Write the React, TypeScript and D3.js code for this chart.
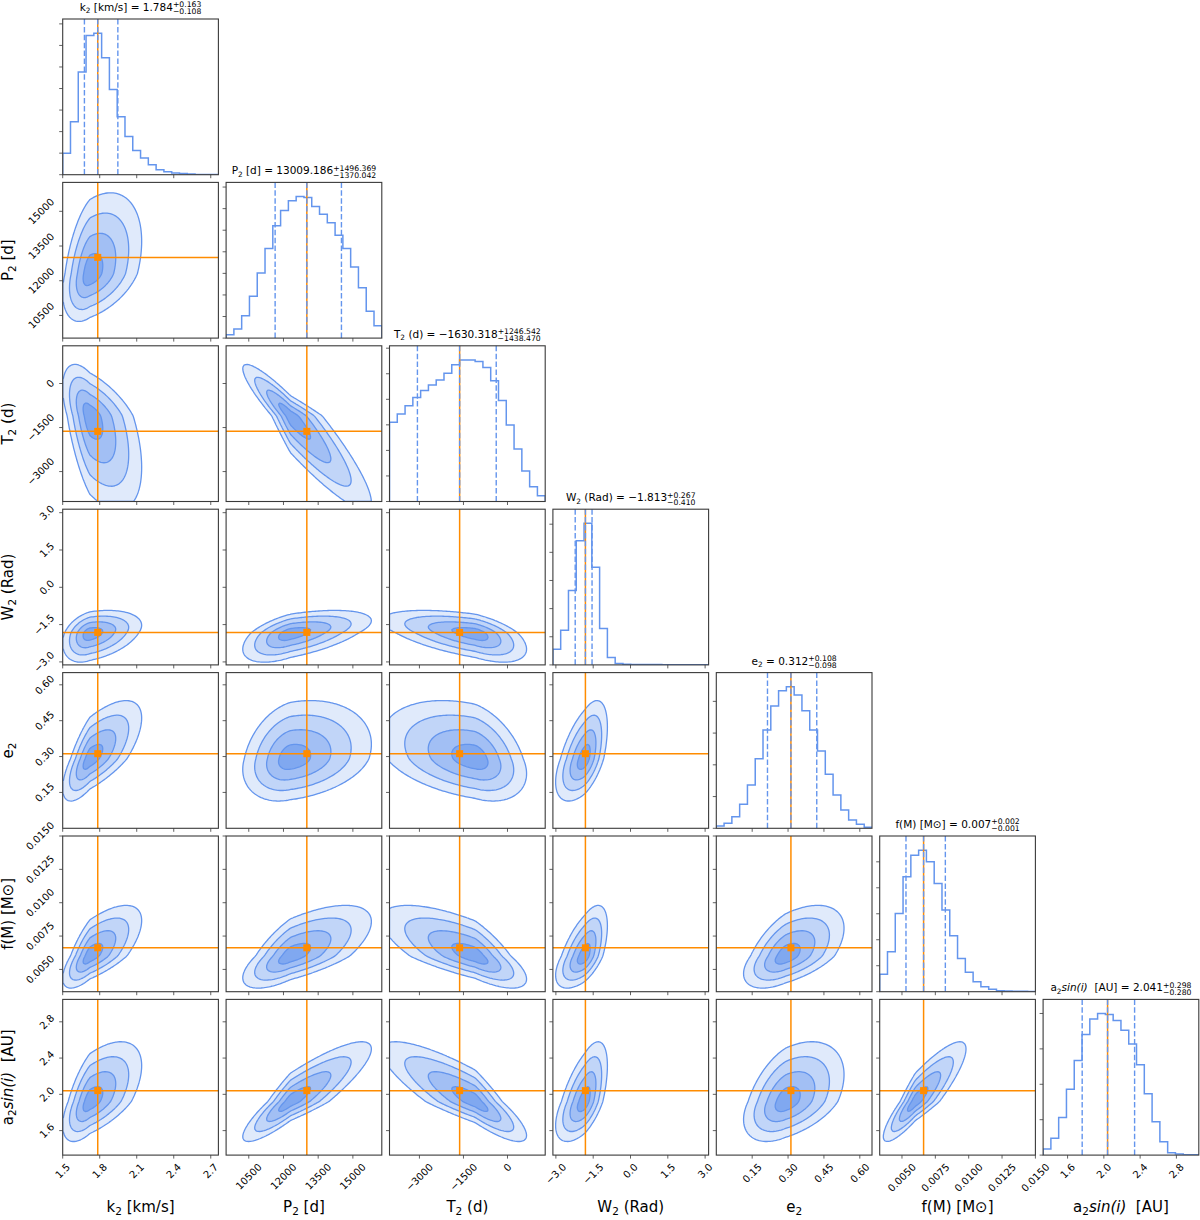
import React from 'react';
import * as d3 from 'd3';

// corner plot of the orbital solution, parameters in plot order
const paramKeys = ['k2', 'P2', 'T2', 'W2', 'e2', 'fM', 'a2'];

type Seg = { t: string; sub?: boolean; it?: boolean };
const paramLabels: Seg[][] = [
  [{ t: 'k' }, { t: '2', sub: true }, { t: ' [km/s]' }],
  [{ t: 'P' }, { t: '2', sub: true }, { t: ' [d]' }],
  [{ t: 'T' }, { t: '2', sub: true }, { t: ' (d)' }],
  [{ t: 'W' }, { t: '2', sub: true }, { t: ' (Rad)' }],
  [{ t: 'e' }, { t: '2', sub: true }],
  [{ t: 'f(M) [M\u2299]' }],
  [{ t: 'a' }, { t: '2', sub: true }, { t: 'sin(i)', it: true }, { t: '  [AU]' }],
];

const axisRanges: [number, number][] = [
  [1.5, 2.762],
  [9520, 16250],
  [-4020, 1285],
  [-3.12, 3.14],
  [0.0, 0.651],
  [0.00333, 0.015],
  [1.33, 3.047],
];

const axisTicks: number[][] = [
  [1.5, 1.8, 2.1, 2.4, 2.7],
  [10500, 12000, 13500, 15000],
  [-3000, -1500, 0],
  [-3, -1.5, 0, 1.5, 3],
  [0.15, 0.3, 0.45, 0.6],
  [0.005, 0.0075, 0.01, 0.0125, 0.015],
  [1.6, 2.0, 2.4, 2.8],
];
const tickDecimals = [1, 0, 0, 1, 2, 4, 1];

// medians (= truths) and 16/84 percentile offsets
const truths = [1.784, 13009.186, -1630.318, -1.813, 0.312, 0.00662, 2.041];
const errMinus = [0.108, 1370.042, 1438.47, 0.41, 0.098, 0.00132, 0.28];
const errPlus = [0.163, 1496.369, 1246.542, 0.267, 0.108, 0.00163, 0.298];

// 1D histograms, 20 bins over each axis range (counts)
const histK2 = [1000, 2460, 4770, 6460, 6570, 5430, 3950, 2690, 1770, 1120, 770, 460, 230, 140, 80, 50, 30, 15, 15, 15];
const histP2 = [156, 420, 1040, 1940, 3020, 4150, 5210, 5910, 6360, 6560, 6520, 6100, 5740, 5350, 4770, 4150, 3300, 2330, 1240, 575];
const histT2 = [3100, 3420, 3750, 4070, 4340, 4560, 4760, 5020, 5350, 5540, 5540, 5480, 5240, 4730, 3950, 2990, 2050, 1190, 575, 222];
const histW2 = [555, 1230, 2645, 4415, 5030, 3470, 1290, 260, 47, 24, 12, 12, 12, 12, 6, 6, 6, 6, 6, 6];
const histE2 = [73, 157, 367, 755, 1364, 2193, 3095, 3851, 4334, 4460, 4197, 3704, 3095, 2434, 1700, 1049, 577, 262, 126, 31];
const histFM = [667, 1538, 3013, 4423, 5256, 5449, 5000, 4167, 3141, 2154, 1282, 744, 385, 192, 90, 38, 26, 13, 13, 6];
const histA2 = [170, 473, 1059, 1862, 2675, 3403, 3847, 3998, 3970, 3800, 3526, 3138, 2552, 1730, 945, 378, 66, 28, 9, 9];
const histCounts = [histK2, histP2, histT2, histW2, histE2, histFM, histA2];
const countTickStep = 1000;

// 2D posterior shape: mode and one-sided widths per parameter
const modes = [1.72, 12300, -1100, -1.85, 0.29, 0.006, 1.92];
const widthLow = [0.11, 1030, 1600, 0.58, 0.088, 0.0012, 0.22];
const widthHigh = [0.21, 1750, 875, 0.46, 0.122, 0.0019, 0.33];
// correlations[row][col], lower triangle
const correlations = [
  [],
  [0.4],
  [-0.55, -0.92],
  [0.35, 0.55, -0.55],
  [0.7, 0.25, -0.35, 0.55],
  [0.7, 0.68, -0.72, 0.6, 0.55],
  [0.6, 0.88, -0.85, 0.6, 0.45, 0.88],
];
const sigmaLevels = [2, 1.5, 1, 0.5];

const FONT = '"DejaVu Sans", sans-serif';
const BLUE = '#6495ed';
const ORANGE = '#ff8c00';
const INK = '#3a3a3a';
const LEFT = 62.7;
const TOP = 19;
const SIZE = 155.7;
const STEP = 163.4;
const GRID = 100;

const charW = (ch: string) =>
  '0123456789'.includes(ch) ? 0.636 : ch === '.' ? 0.318 : ch === '+' || ch === '\u2212' ? 0.838 : 0.6;
const textW = (s: string, fs: number) => [...s].reduce((a, ch) => a + charW(ch), 0) * fs;

function segSpans(segs: Seg[], fs: number, keyBase: string) {
  let shifted = false;
  const spans = segs.map((s, k) => {
    let dy = 0;
    if (s.sub && !shifted) { dy = fs * 0.22; shifted = true; }
    else if (!s.sub && shifted) { dy = -fs * 0.22; shifted = false; }
    return (
      <tspan key={keyBase + k} dy={dy || undefined} fontSize={s.sub ? fs * 0.7 : undefined}
        fontStyle={s.it ? 'italic' : undefined}>{s.t}</tspan>
    );
  });
  return { spans, shifted };
}

export default function App() {
  const n = paramKeys.length;
  const colX = (c: number) => LEFT + c * STEP;
  const rowY = (r: number) => TOP + r * STEP;
  const xs = (c: number) => d3.scaleLinear().domain(axisRanges[c]).range([colX(c), colX(c) + SIZE]);
  const ys = (r: number) => d3.scaleLinear().domain(axisRanges[r]).range([rowY(r) + SIZE, rowY(r)]);
  const fills = [0.2, 0.4, 0.6, 0.82].map((a) => d3.interpolateRgb('#ffffff', BLUE)(a));
  const thresholds = sigmaLevels.map((s) => Math.exp((-s * s) / 2));
  const fmt = (i: number) => d3.format(`.${tickDecimals[i]}f`);
  const f3 = d3.format('.3f');

  const panels: React.ReactNode[] = [];
  for (let r = 0; r < n; r++) {
    for (let c = 0; c <= r; c++) {
      const x = xs(c);
      const x0 = colX(c);
      const y0 = rowY(r);
      const bottom = y0 + SIZE;
      const key = `p${r}-${c}`;
      const items: React.ReactNode[] = [];
      let leftTicks: number[] = [];

      if (r === c) {
        const counts = histCounts[c];
        const yMax = 1.1 * (d3.max(counts) as number);
        const yc = d3.scaleLinear().domain([0, yMax]).range([bottom, y0]);
        const [lo, hi] = axisRanges[c];
        const edges = d3.range(counts.length + 1).map((k) => lo + (k * (hi - lo)) / counts.length);
        const pts: [number, number][] = [[edges[0], 0]];
        counts.forEach((v, k) => pts.push([edges[k], v]));
        pts.push([edges[counts.length], counts[counts.length - 1]]);
        pts.push([edges[counts.length], 0]);
        const line = d3.line<[number, number]>().x((d) => x(d[0])).y((d) => yc(d[1])).curve(d3.curveStepAfter);
        items.push(<path key="h" d={line(pts) || ''} fill="none" stroke={BLUE} strokeWidth={1.5} clipPath={`url(#clip-${key})`} />);
        const tx = x(truths[c]);
        items.push(<line key="t" x1={tx} x2={tx} y1={y0} y2={bottom} stroke={ORANGE} strokeWidth={1.5} />);
        [truths[c] - errMinus[c], truths[c], truths[c] + errPlus[c]].forEach((q, k) => {
          items.push(<line key={'q' + k} x1={x(q)} x2={x(q)} y1={y0} y2={bottom} stroke={BLUE} strokeWidth={1.4} strokeDasharray="5.5,2.4" />);
        });
        leftTicks = d3.range(0, yMax, countTickStep).map((v) => yc(v));

        // title
        const fs = 10.5;
        const sfs = 7.7;
        const sup = '+' + f3(errPlus[c]);
        const sub = '\u2212' + f3(errMinus[c]);
        const { spans, shifted } = segSpans(paramLabels[c], fs, 'tl');
        items.push(
          <text key="title" x={x0 + SIZE / 2} y={y0 - 8} textAnchor="middle" fontSize={fs} fontFamily={FONT} fill="#000" style={{ whiteSpace: 'pre' }}>
            {spans}
            <tspan dy={shifted ? -fs * 0.22 : undefined}>{' = ' + f3(truths[c])}</tspan>
            <tspan fontSize={sfs} dy={-3.7}>{sup}</tspan>
            <tspan fontSize={sfs} dx={-textW(sup, sfs)} dy={7}>{sub}</tspan>
          </text>
        );
      } else {
        const y = ys(r);
        const [xlo, xhi] = axisRanges[c];
        const [ylo, yhi] = axisRanges[r];
        const rho = correlations[r][c];
        const values = new Float64Array(GRID * GRID);
        for (let gj = 0; gj < GRID; gj++) {
          const yv = yhi - ((gj + 0.5) / GRID) * (yhi - ylo);
          const v = (yv - modes[r]) / (yv < modes[r] ? widthLow[r] : widthHigh[r]);
          for (let gi = 0; gi < GRID; gi++) {
            const xv = xlo + ((gi + 0.5) / GRID) * (xhi - xlo);
            const u = (xv - modes[c]) / (xv < modes[c] ? widthLow[c] : widthHigh[c]);
            values[gj * GRID + gi] = Math.exp(-(u * u - 2 * rho * u * v + v * v) / (2 * (1 - rho * rho)));
          }
        }
        const contours = d3.contours().size([GRID, GRID]).thresholds(thresholds)(values as any);
        const proj = d3.geoTransform({
          point(gx: number, gy: number) {
            (this as any).stream.point(x0 + (gx / GRID) * SIZE, y0 + (gy / GRID) * SIZE);
          },
        });
        const geo = d3.geoPath(proj);
        const g = contours.map((cn, k) => (
          <path key={'c' + k} d={geo(cn as any) || ''} fill={fills[k]} stroke={BLUE} strokeWidth={1.3} strokeLinejoin="round" />
        ));
        items.push(<g key="cont" clipPath={`url(#clip-${key})`}>{g}</g>);
        const tx = x(truths[c]);
        const ty = y(truths[r]);
        items.push(<line key="tv" x1={tx} x2={tx} y1={y0} y2={bottom} stroke={ORANGE} strokeWidth={1.5} />);
        items.push(<line key="th" x1={x0} x2={x0 + SIZE} y1={ty} y2={ty} stroke={ORANGE} strokeWidth={1.5} />);
        items.push(<rect key="tm" x={tx - 3.5} y={ty - 3.5} width={7} height={7} fill={ORANGE} />);
        leftTicks = axisTicks[r].map((t) => y(t));

        if (c === 0) {
          axisTicks[r].forEach((t, k) => {
            const s = fmt(r)(t);
            const bw = (textW(s, 10) + 11.6) / Math.SQRT2;
            const cx = x0 - 6 - bw / 2;
            const cy = y(t);
            items.push(
              <text key={'yl' + k} x={cx} y={cy} transform={`rotate(-45 ${cx} ${cy})`} textAnchor="middle"
                dominantBaseline="central" fontSize={10} fontFamily={FONT} fill="#000">{s}</text>
            );
          });
          const { spans } = segSpans(paramLabels[r], 15, 'yl');
          const lx = 13;
          const ly = y0 + SIZE / 2;
          items.push(
            <text key="ylab" x={lx} y={ly} transform={`rotate(-90 ${lx} ${ly})`} textAnchor="middle" fontSize={15}
              fontFamily={FONT} fill="#000" style={{ whiteSpace: 'pre' }}>{spans}</text>
          );
        }
      }

      // ticks
      axisTicks[c].forEach((t, k) => {
        items.push(<line key={'bt' + k} x1={x(t)} x2={x(t)} y1={bottom} y2={bottom + 3.5} stroke={INK} strokeWidth={0.8} />);
      });
      leftTicks.forEach((ty, k) => {
        items.push(<line key={'lt' + k} x1={x0 - 3.5} x2={x0} y1={ty} y2={ty} stroke={INK} strokeWidth={0.8} />);
      });

      if (r === n - 1) {
        axisTicks[c].forEach((t, k) => {
          const s = fmt(c)(t);
          const bh = (textW(s, 10) + 11.6) / Math.SQRT2;
          const cx = x(t);
          const cy = bottom + 6 + bh / 2;
          items.push(
            <text key={'xl' + k} x={cx} y={cy} transform={`rotate(-45 ${cx} ${cy})`} textAnchor="middle"
              dominantBaseline="central" fontSize={10} fontFamily={FONT} fill="#000">{s}</text>
          );
        });
        const { spans } = segSpans(paramLabels[c], 15, 'xl');
        items.push(
          <text key="xlab" x={x0 + SIZE / 2} y={1212} textAnchor="middle" fontSize={15} fontFamily={FONT} fill="#000"
            style={{ whiteSpace: 'pre' }}>{spans}</text>
        );
      }

      items.push(<rect key="frame" x={x0} y={y0} width={SIZE} height={SIZE} fill="none" stroke={INK} strokeWidth={1.1} />);

      panels.push(
        <g key={key}>
          <defs>
            <clipPath id={`clip-${key}`}>
              <rect x={x0} y={y0} width={SIZE} height={SIZE} />
            </clipPath>
          </defs>
          {items}
        </g>
      );
    }
  }

  return (
    <svg width={1200} height={1220} style={{ position: 'absolute', left: 0, top: 0, background: '#fff' }}>
      <rect width={1200} height={1220} fill="#fff" />
      {panels}
    </svg>
  );
}
